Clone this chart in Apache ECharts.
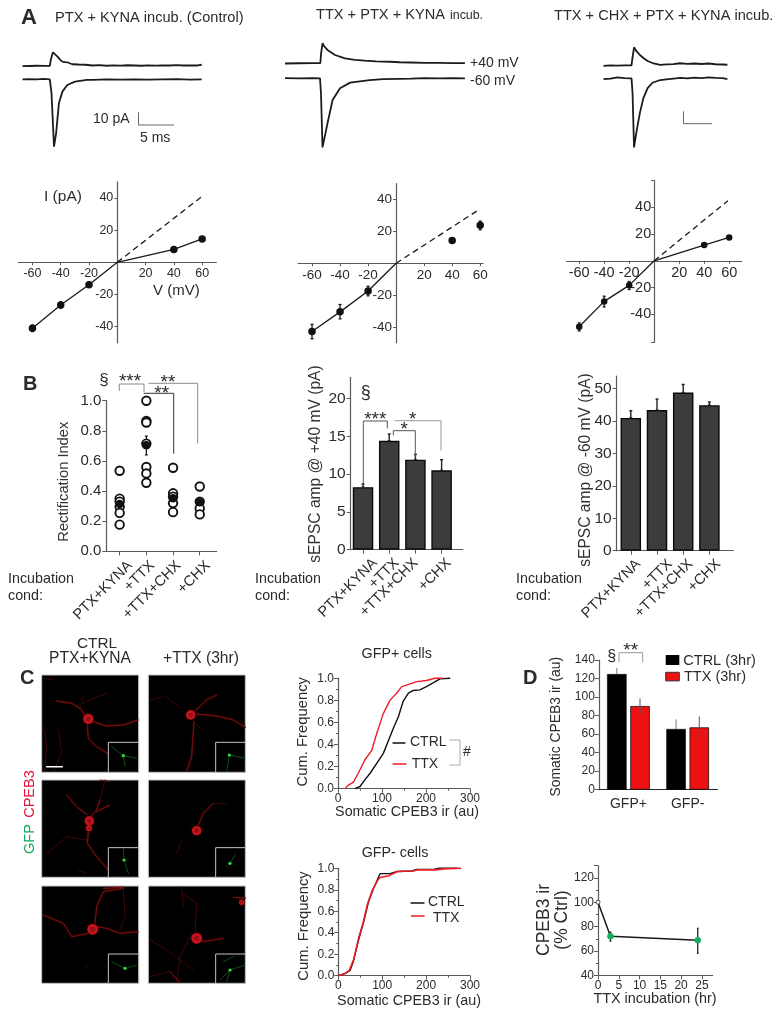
<!DOCTYPE html>
<html><head><meta charset="utf-8">
<style>html,body{margin:0;padding:0;background:#fff}#c{width:784px;height:1018px}</style>
<script src="https://cdn.jsdelivr.net/npm/echarts@6/dist/echarts.min.js"></script>
</head><body><div id="c"></div>
<script>
// ---------- DATA ----------
// Panel A traces: [time ms, current pA] (outward trace shown with its display offset)
const trace1Up=[[0,10.6],[1,10.8],[2,11],[3,10.9],[3.9,11],[4.05,16],[4.35,21.9],[4.7,20],[5,18.4],[5.4,15.8],[5.7,14.3],[6.1,13.9],[6.4,13.8],[7.1,12.2],[8,12],[9,11.8],[10,11.2],[11,11.5],[12,11],[13,11.3],[14,11.1],[15,11.4],[16,11.2],[17,11],[18,11.3],[19,11.1],[20,11.3],[21,11.2],[22,11.5],[23,11.2],[24,11.3],[25,11.2],[25.6,11.8]];
const trace1Dn=[[0,0],[1,.2],[2,0],[3,.3],[3.9,0],[4.14,-11],[4.5,-54.6],[4.8,-43.8],[5.2,-19.5],[5.7,-10],[6.4,-4.6],[7.5,-1.9],[9.2,-.5],[10,-.4],[12,-.1],[14,-.3],[16,0],[18,-.3],[20,0],[22,.1],[24,-.2],[25.6,0]];
const trace2Up=[[0,12],[2,12.2],[4,12.3],[5.05,12.3],[5.15,20],[5.36,28.4],[5.6,26],[6.07,23],[7.14,18.9],[8.57,16.2],[10,15],[11.4,14.3],[13,13.7],[15,13.4],[16.4,13],[18,12.8],[20,12.5],[22,12.5],[24,12.3],[25.7,12.3]];
const trace2Dn=[[0,.2],[2,0],[4,.2],[5,0],[5.14,-12],[5.36,-56],[6.07,-36.5],[6.8,-17.6],[7.86,-8],[9.3,-3.5],[12.1,-1.4],[14,-.7],[16.4,-.4],[18,-.2],[20,.1],[22,0],[24,.1],[25.7,0]];
const trace3Up=[[0,10],[1,10.4],[2,10.2],[3,10.5],[4,10.4],[4.1,15],[4.36,25.1],[4.7,22],[5.2,18.9],[5.7,16.5],[6.3,14],[7,12.4],[8.1,10.8],[9,11.3],[10,11.5],[10.9,12.2],[12,11.7],[13,12],[14,11.6],[15,12],[16,11.4],[17,11.2],[17.7,11]];
const trace3Dn=[[0,-.6],[1,-.2],[2,.8],[3,.1],[4,-.1],[4.15,-12],[4.36,-56],[4.75,-42],[5.2,-28],[5.7,-16],[6.3,-8],[7,-3.6],[8.1,-1.4],[9,-.8],[10,-.2],[11,.4],[12,0],[13,.6],[14,.2],[15,.8],[16,.3],[17,.1],[17.7,-.6]];
const ivTicks=[-60,-40,-20,20,40,60];
const iv1Line=[[-60,-41],[-40,-26.5],[-20,-13.9],[0,0],[40,8],[60,14.5]];
const iv1Pts=[[-60,-41],[-40,-26.5],[-20,-13.9],[40,8],[60,14.5]];
const iv1Dash=[[0,0],[60,41]];
const iv1Err=[[-60,-43,-39],[-40,-28.5,-24.5],[-20,-15.5,-12.3]];
const iv2Line=[[-60,-43],[-40,-30.6],[-20,-17.5],[0,0]];
const iv2Pts=[[-60,-43],[-40,-30.6],[-20,-17.5],[40,14.2],[60,23.8]];
const iv2Dash=[[0,0],[58,33]];
const iv2Err=[[-60,-47.5,-38.5],[-40,-35,-26],[-20,-20.5,-14.5],[60,21,26.5]];
const iv3Line=[[-60,-49.4],[-40,-30.4],[-20,-18.4],[0,0],[40,11.8],[60,17.5]];
const iv3Pts=[[-60,-49.4],[-40,-30.4],[-20,-18.4],[40,11.8],[60,17.5]];
const iv3Dash=[[0,0],[59,45]];
const iv3Err=[[-60,-52.5,-46.5],[-40,-34.5,-26.5],[-20,-21.5,-15.5]];
const conds=['PTX+KYNA','+TTX','+TTX+CHX','+CHX'];
const riPTX=[.535,.35,.33,.295,.255,.177];
const riTTX=[1,.865,.855,.715,.56,.517,.455];
const riTTXCHX=[.555,.385,.363,.32,.26];
const riCHX=[.43,.33,.285,.245];
const riMeans=[.314,.705,.352,.325];
const riErrTop=[.33,.765,.37,.34];
const riErrBot=[.295,.64,.335,.31];
const amp40=[8.27,14.4,11.9,10.5];
const amp40Err=[8.7,15.3,12.6,11.9];
const amp60=[40.9,43.3,48.7,44.8];
const amp60Err=[43.1,46.7,51.2,45.8];
const gfpPlusCtrl=[[38.6,0],[50,.02],[61,.08],[73,.14],[88,.23],[103,.32],[114,.43],[126,.55],[137,.65],[148,.79],[160,.865],[171,.89],[186,.895],[201,.925],[217,.96],[232,.995],[255,1]];
const gfpPlusTtx=[[16,0],[23,.03],[35,.06],[46,.14],[61,.26],[77,.35],[88,.5],[103,.68],[118,.8],[133,.865],[145,.925],[160,.945],[179,.97],[201,.98],[220,1],[239,1]];
const gfpMinusCtrl=[[0,0],[15,.02],[27,.05],[34,.13],[46,.33],[57,.49],[69,.69],[80,.81],[95,.95],[118,.95],[134,.97],[168,.975],[179,.99],[218,.99],[229,1],[271,1]];
const gfpMinusTtx=[[0,0],[15,.02],[25,.05],[35,.15],[47,.36],[57,.5],[66,.66],[77,.79],[90,.89],[95,.915],[115,.93],[135,.97],[170,.975],[180,.985],[220,.985],[240,.995],[280,1]];
const dCats=['GFP+','GFP-'];
const dCtrl=[124.8,65.5];
const dTtx=[90.3,67.3];
const dCtrlErrTop=[131.3,75.9];
const dTtxErr=[[82,98.6],[54.7,79]];
const timeLine=[[0,100],[3,72],[24,68.7]];
const timeErr=[[3,68,75.5],[24,58,78.6]];

// ---------- HELPERS ----------
const FONT='"Liberation Sans",Arial,sans-serif', INK='#2b2b2b', AX='#5a5a5a';
const grids=[],xAxes=[],yAxes=[],series=[],elems=[];
function panel(left,top,width,height,x,y){
  grids.push({left,top,width,height,containLabel:false});
  const i=grids.length-1;
  xAxes.push(Object.assign({gridIndex:i,type:'value',splitLine:{show:false}},x));
  yAxes.push(Object.assign({gridIndex:i,type:'value',splitLine:{show:false}},y));
  return i;
}
function axisStyle(size,margin,extra){
  return Object.assign({
    axisLine:{show:true,onZero:false,lineStyle:{color:AX,width:1.2}},
    axisTick:{show:true,length:4,inside:false,lineStyle:{color:AX,width:1}},
    axisLabel:{show:true,fontFamily:FONT,fontSize:size,color:INK,margin:margin,hideOverlap:false},
    splitLine:{show:false}},extra||{});
}
function T(text,x,y,size,o){o=o||{};
  elems.push({type:'text',x,y,rotation:o.rot||0,z:50,silent:true,style:{text,fontFamily:FONT,fontSize:size,
    fontWeight:o.weight||'normal',fill:o.color||INK,align:o.align||'left',verticalAlign:'middle'}});
}
function P(points,o){o=o||{};
  elems.push({type:'polyline',z:o.z||40,silent:true,shape:{points},style:{fill:null,stroke:o.color||'#8a8a8a',lineWidth:o.w||1,
    shadowBlur:o.blur||0,shadowColor:o.color||'#000',lineCap:'round',lineJoin:'round'}});
}
function R(x,y,w,h,fill,stroke,z){
  elems.push({type:'rect',z:z||30,silent:true,shape:{x,y,width:w,height:h},style:{fill,stroke:stroke||null,lineWidth:stroke?1:0}});
}
function errBars(gi,data,cap,color,w,off){
  series.push({type:'custom',xAxisIndex:gi,yAxisIndex:gi,data,encode:{x:0,y:[1,2]},silent:true,z:4,clip:false,
    renderItem(p,api){
      const x=api.value(0),a=api.coord([x,api.value(1)]),b=api.coord([x,api.value(2)]);
      const s={stroke:color,lineWidth:w},d=off||0,c=[];
      c.push({type:'line',shape:{x1:a[0]+d,y1:a[1],x2:b[0]+d,y2:b[1]},style:s});
      if(cap>0){
        c.push({type:'line',shape:{x1:a[0]+d-cap,y1:a[1],x2:a[0]+d+cap,y2:a[1]},style:s});
        c.push({type:'line',shape:{x1:b[0]+d-cap,y1:b[1],x2:b[0]+d+cap,y2:b[1]},style:s});
      }
      return {type:'group',children:c};
    }});
}
function line(gi,data,o){o=o||{};
  series.push({type:'line',xAxisIndex:gi,yAxisIndex:gi,data,showSymbol:false,symbol:'none',
    lineStyle:{color:o.color||'#1a1a1a',width:o.w||1.3,type:o.type||'solid'},z:o.z||3,clip:false,silent:true,animation:false});
}
function dots(gi,data,size,o){o=o||{};
  series.push({type:'scatter',xAxisIndex:gi,yAxisIndex:gi,data,symbolSize:size,z:o.z||5,clip:false,silent:true,
    itemStyle:{color:o.fill||'#111',borderColor:o.stroke||'#111',borderWidth:o.bw||0,opacity:1}});
}

// ---------- PANEL A : traces ----------
function tracePanel(left,y0,t1,t2,span){
  const g=panel(left,y0-43.17,span*7,117.17,{min:0,max:span,show:false},{min:-60,max:35,show:false});
  line(g,t1,{w:1.8,color:'#1c1c1c'});line(g,t2,{w:1.8,color:'#1c1c1c'});
}
tracePanel(22.5,79.3,trace1Up,trace1Dn,25.6);
tracePanel(285,78.3,trace2Up,trace2Dn,25.7);
tracePanel(603.5,78.3,trace3Up,trace3Dn,17.7);
T('A',21,17.5,22,{weight:'bold'});
T('PTX + KYNA incub. (Control)',55,17.5,14.6);
T('TTX + PTX + KYNA',316,15,14.6);T('incub.',450,16,12.4);
T('TTX + CHX + PTX + KYNA incub.',554,15.5,14.6);
T('+40 mV',470,62.7,14);T('-60 mV',470,80.7,14);
T('10 pA',93,119.3,14);T('5 ms',140,137.7,14);
P([[138.5,112.7],[138.5,125],[173.5,125]],{color:'#666',w:1});
P([[683.5,111.7],[683.5,123.7],[711.5,123.7]],{color:'#666',w:1});

// ---------- PANEL A : I-V ----------
function ivPanel(left,top,w,h,xr,yr,size,yTicks,m,pts,ln,dash,err,dot){
  const offX=-h*(0-yr[0])/(yr[1]-yr[0]), offY=-w*(0-xr[0])/(xr[1]-xr[0]);
  const g=panel(left,top,w,h,
    axisStyle(size,m[0],{min:xr[0],max:xr[1],position:'bottom',offset:offX,
      axisTick:{show:true,length:3,customValues:ivTicks,lineStyle:{color:AX}},
      axisLabel:{show:true,customValues:ivTicks,fontFamily:FONT,fontSize:size,color:INK,margin:m[0],hideOverlap:false,showMinLabel:true,showMaxLabel:true}}),
    axisStyle(size,m[1],{min:yr[0],max:yr[1],position:'left',offset:offY,
      axisTick:{show:true,length:3,customValues:yTicks,lineStyle:{color:AX}},
      axisLabel:{show:true,customValues:[-40,-20,20,40],fontFamily:FONT,fontSize:size,color:INK,margin:m[1],hideOverlap:false,showMinLabel:true,showMaxLabel:true}}));
  line(g,ln,{w:1.3});line(g,dash,{w:1.3,type:[6,4]});
  errBars(g,err,1.5,'#1a1a1a',1.3);dots(g,pts,dot);
}
ivPanel(18.3,181.8,198,161,[-70,70],[-50,50],12.5,[-40,-20,20,40],[5,4],iv1Pts,iv1Line,iv1Dash,iv1Err,7.5);
ivPanel(298,183.7,185,159,[-70,62],[-50,50],13.5,[-40,-20,20,40],[5,4],iv2Pts,iv2Line,iv2Dash,iv2Err,7.5);
ivPanel(566.7,180.6,175,161.7,[-70,70],[-61,60],14.5,[-61,-40,-20,20,40,60],[5,3],iv3Pts,iv3Line,iv3Dash,iv3Err,6.5);
T('I (pA)',44,196.7,15.5);T('V (mV)',153,290.7,15);

// ---------- PANEL B ----------
// the first custom label position is an empty placeholder at the axis minimum, so that
// the library's first-label overlap check does not drop one of the tightly packed labels
function condAxis(min,max,labelAt,size,m){
  return axisStyle(size,m,{min,max,
    axisTick:{show:true,length:4,customValues:[1,2,3,4],lineStyle:{color:AX}},
    axisLabel:{show:true,customValues:[min].concat(labelAt),rotate:45,fontFamily:FONT,fontSize:size,color:INK,margin:m,hideOverlap:false,
      showMinLabel:false,showMaxLabel:true,formatter:v=>v<1?'':conds[Math.floor(v)-1]}});
}
const b1=panel(106.3,400.7,110.4,150.6,condAxis(.5,4.635,[1.39,2.22,3.21,4.31],14.6,12),
  axisStyle(15,5,{min:0,max:1,interval:.2,axisLabel:{show:true,fontFamily:FONT,fontSize:15,color:INK,margin:5,formatter:v=>v.toFixed(1)}}));
[riPTX,riTTX,riTTXCHX,riCHX].forEach((vals,i)=>dots(b1,vals.map(v=>[i+1,v]),8.5,{fill:'#fff',stroke:'#111',bw:1.9}));
errBars(b1,riMeans.map((m,i)=>[i+1,riErrBot[i],riErrTop[i]]),1.5,'#111',1.2);
dots(b1,riMeans.map((m,i)=>[i+1,m]),8.5,{z:7});
T('B',23,384,20,{weight:'bold'});T('§',104,380,17,{align:'center'});
P([[119.3,390.7],[119.3,384],[144,384],[144,391.7]]);
P([[149,383.3],[197.7,383.3],[197.7,443]]);
P([[144,393.3],[173.7,393.3],[173.7,453.3]],{color:'#333'});
T('***',130,381.5,19,{align:'center'});T('**',168,382.5,19,{align:'center'});T('**',161.7,393.5,19,{align:'center'});
T('Rectification Index',64,481.7,14.7,{align:'center',rot:Math.PI/2,color:'#333'});
T('Incubation',8,579,14.3);T('cond:',8,596,14.3);

const b2=panel(350.7,377.3,112,172.4,condAxis(.53,4.805,[1.46,2.29,3.01,4.27],14.6,11),
  axisStyle(15.5,5,{min:0,max:22.8,
    axisTick:{show:true,length:4,customValues:[0,5,10,15,20],lineStyle:{color:AX}},
    axisLabel:{show:true,customValues:[0,5,10,15,20],fontFamily:FONT,fontSize:15.5,color:INK,margin:5,showMinLabel:true,showMaxLabel:true}}));
series.push({type:'bar',xAxisIndex:b2,yAxisIndex:b2,data:amp40.map((v,i)=>[i+1,v]),barWidth:20.5,silent:true,z:3,
  itemStyle:{color:'#3c3c3c',borderColor:'#0a0a0a',borderWidth:1.4}});
errBars(b2,amp40.map((v,i)=>[i+1,v,amp40Err[i]]),1.5,'#222',1.4);
T('§',365.7,393.3,18,{align:'center'});
P([[363.3,484],[363.3,421],[387.3,421],[387.3,428]],{color:'#555'});
P([[393.3,435],[393.3,430.7],[415.3,430.7],[415.3,456.7]],{color:'#555'});
P([[395,420.7],[441,420.7],[441,450]],{color:'#999'});
T('***',375.3,420,19,{align:'center'});T('*',404.3,430,19,{align:'center'});T('*',412.7,419.5,19,{align:'center'});
T('sEPSC amp @ +40 mV (pA)',315.7,464,15.6,{align:'center',rot:Math.PI/2,color:'#333'});
T('Incubation',255,579,14.3);T('cond:',255,596,14.3);

const b3=panel(616.7,376,116.6,174.7,condAxis(.462,4.912,[1.29,2.5,3.28,4.34],14.6,11),
  axisStyle(15.5,5,{min:0,max:53.8,
    axisTick:{show:true,length:4,customValues:[0,10,20,30,40,50],lineStyle:{color:AX}},
    axisLabel:{show:true,customValues:[0,10,20,30,40,50],fontFamily:FONT,fontSize:15.5,color:INK,margin:5,showMinLabel:true,showMaxLabel:true}}));
series.push({type:'bar',xAxisIndex:b3,yAxisIndex:b3,data:amp60.map((v,i)=>[i+1,v]),barWidth:20.5,silent:true,z:3,
  itemStyle:{color:'#3c3c3c',borderColor:'#0a0a0a',borderWidth:1.4}});
errBars(b3,amp60.map((v,i)=>[i+1,v,amp60Err[i]]),1.5,'#222',1.4);
T('sEPSC amp @ -60 mV (pA)',586,470,15.6,{align:'center',rot:Math.PI/2,color:'#333'});
T('Incubation',516,579,14.3);T('cond:',516,596,14.3);

// ---------- PANEL C : micrographs ----------
const Z=p=>p.map(q=>[q[0]/3,640+q[1]/3]);
const cells=[
 {box:[125,105],inset:[325,307],soma:[[265,237,15]],
  bright:[[[265,237],[240,205],[215,190],[170,183]],[[280,245],[320,258],[370,255],[415,240]],[[262,255],[265,295],[290,320],[330,345]]],
  faint:[[[130,115],[160,120]],[[130,260],[140,310],[135,395]],[[175,270],[185,340],[160,395]],[[240,205],[250,170]],[[320,160],[280,175],[250,190]]],
  green:[[[335,320],[370,347],[410,355]],[[370,347],[375,380]]]},
 {box:[445,105],inset:[647,307],soma:[[572,225,14]],
  bright:[[[580,218],[620,180],[650,165]],[[590,222],[650,228],[700,240],[737,262]],[[582,245],[578,300],[575,350],[560,395]]],
  faint:[[[540,205],[500,170]],[[450,180],[490,170]],[[585,250],[600,265]]],
  green:[[[688,345],[735,355]],[[688,345],[680,395]]]},
 {box:[125,420],inset:[325,623],soma:[[268,543,14],[267,565,9]],
  bright:[[[272,530],[290,510],[300,480]],[[262,525],[230,500],[200,465]],[[290,515],[330,495]],[[265,575],[262,610],[290,650],[325,690]]],
  faint:[[[300,480],[315,420]],[[262,600],[200,590],[140,640]],[[235,690],[260,700]],[[300,420],[330,425]]],
  green:[[[370,625],[372,660],[385,700]]]},
 {box:[445,420],inset:[647,623],soma:[[590,572,14]],
  bright:[[[595,555],[610,520],[640,490]]],faint:[[[640,490],[680,492]],[[545,605],[530,640]]],
  green:[[[705,645],[690,670],[680,680]]]},
 {box:[125,738],inset:[325,942],soma:[[278,868,16]],
  bright:[[[265,880],[215,890],[190,850],[130,825]],[[290,860],[320,865],[360,880],[415,875]],[[285,850],[290,800],[310,755],[370,745]],[[310,745],[372,742]]],
  faint:[[[370,745],[375,830],[360,870]],[[265,975],[255,985]]],
  green:[[[335,965],[375,985],[410,975]]]},
 {box:[445,738],inset:[647,942],soma:[[590,895,16],[725,787,8]],
  bright:[[[605,905],[640,900],[670,895]],[[737,775],[700,772]],[[510,995],[540,1028]]],
  faint:[[[585,880],[590,790],[545,760]],[[575,880],[540,950],[530,1028]],[[450,900],[500,930],[540,960],[580,990]],[[450,1010],[490,1000],[510,995]],[[545,740],[550,800]]],
  green:[[[660,1020],[690,990],[735,975]],[[690,990],[680,1025]],[[670,965],[700,950]]]}
];
cells.forEach(c=>{
  const [bx,by]=Z([c.box])[0];
  R(bx,by,97,97.3,'#000','#c4c4c4');
  c.faint.forEach(p=>P(Z(p),{color:'#470808',w:.9,z:31}));
  c.bright.forEach(p=>P(Z(p),{color:'#7e0c0c',w:1,z:32,blur:1.5}));
  c.soma.forEach(s=>{const q=Z([s])[0];
    elems.push({type:'circle',z:33,silent:true,shape:{cx:q[0],cy:q[1],r:s[2]/3},style:{fill:'#c8141c',shadowBlur:2,shadowColor:'#700'}});
    elems.push({type:'circle',z:33,silent:true,shape:{cx:q[0],cy:q[1],r:s[2]/6},style:{fill:'#941018'}});});
  const [ix,iy]=Z([c.inset])[0];
  R(ix,iy,bx+97-ix,by+97.3-iy,'#000','#c4c4c4',34);
  c.green.forEach(p=>P(Z(p),{color:'#12701c',w:.7,z:35}));
});
const greenSomas=[[370,347],[688,345],[372,660],[690,670],[375,985],[690,990]];
Z(greenSomas).forEach(q=>elems.push({type:'circle',z:36,silent:true,shape:{cx:q[0],cy:q[1],r:1.6},style:{fill:'#2ce03c'}}));
P([[46.7,766.7],[62.3,766.7]],{color:'#fff',w:1.6,z:38});
T('CTRL',97,643.5,15.3,{align:'center'});T('PTX+KYNA',90,659,15.6,{align:'center'});
T('+TTX (3hr)',201,659,15.6,{align:'center'});
T('C',20,678,20,{weight:'bold'});
T('GFP',30,839,14.5,{align:'center',rot:Math.PI/2,color:'#14a85a'});
T('CPEB3',30,794,14.5,{align:'center',rot:Math.PI/2,color:'#e01535'});

// ---------- PANEL C : cumulative ----------
function cumAxis(){
  return [axisStyle(12,4,{min:0,max:300,interval:100,minorTick:{show:true,splitNumber:2,length:2,lineStyle:{color:AX}}}),
    axisStyle(12,4,{min:0,max:1,interval:.2,minorTick:{show:true,splitNumber:2,length:2,lineStyle:{color:AX}},
      axisLabel:{show:true,fontFamily:FONT,fontSize:12,color:INK,margin:4,formatter:v=>v.toFixed(1)}})];
}
const c1a=cumAxis(),c1=panel(338,678.3,132,110.4,c1a[0],c1a[1]);
line(c1,gfpPlusCtrl,{color:'#111',w:1.4});line(c1,gfpPlusTtx,{color:'#ee1c25',w:1.4});
T('GFP+ cells',396.7,654,14.3,{align:'center'});
T('Somatic CPEB3 ir (au)',407,812,14.3,{align:'center'});
T('Cum. Frequency',303,731.7,14.8,{align:'center',rot:Math.PI/2});
P([[393,743],[405,743]],{color:'#111',w:1.4});T('CTRL',410,742,14);
P([[393,764],[406,764]],{color:'#ee1c25',w:1.4});T('TTX',411.7,764,14);
P([[450,740],[460,740],[460,765],[450,765]],{color:'#aaa'});T('#',463,752,14);
const c2a=cumAxis(),c2=panel(338.3,868.3,131.7,107.4,c2a[0],c2a[1]);
line(c2,gfpMinusCtrl,{color:'#111',w:1.4});line(c2,gfpMinusTtx,{color:'#ee1c25',w:1.6});
T('GFP- cells',395,852.7,14.3,{align:'center'});
T('Somatic CPEB3 ir (au)',409,1001,14.3,{align:'center'});
T('Cum. Frequency',304,926,14.8,{align:'center',rot:Math.PI/2});
P([[411,903],[424,903]],{color:'#111',w:1.4});T('CTRL',428,902,14);
P([[411.5,916],[424,916]],{color:'#ee1c25',w:1.6});T('TTX',433,918,14);

// ---------- PANEL D ----------
const d1=panel(598.8,660,118.5,129.7,
  {type:'category',data:dCats,axisTick:{show:false},axisLine:{show:true,onZero:false,lineStyle:{color:'#222',width:1.2}},
   axisLabel:{fontFamily:FONT,fontSize:14,color:INK,margin:7}},
  axisStyle(12,4,{min:0,max:140,interval:20}));
series.push({type:'bar',xAxisIndex:d1,yAxisIndex:d1,data:dCtrl,barWidth:19.5,barGap:'19%',silent:true,z:3,itemStyle:{color:'#000',borderColor:'#000',borderWidth:.5}});
series.push({type:'bar',xAxisIndex:d1,yAxisIndex:d1,data:dTtx,barWidth:19.5,barGap:'19%',silent:true,z:3,itemStyle:{color:'#ee1111',borderColor:'#111',borderWidth:.8}});
errBars(d1,dCtrl.map((v,i)=>[i,v,dCtrlErrTop[i]]),0,'#777',1,-11.6);
errBars(d1,dTtxErr.map((e,i)=>[i,e[0],e[1]]),0,'#555',1,11.6);
T('D',523,678,20,{weight:'bold'});T('§',611.7,657,16,{align:'center'});
P([[619,661.7],[619,652.7],[642.7,652.7],[642.7,662]],{color:'#999'});
T('**',630.7,650.5,19,{align:'center'});
T('Somatic CPEB3 ir (au)',556,726.7,13.9,{align:'center',rot:Math.PI/2});
R(665.7,655,13.6,10,'#000');R(665.7,672.3,13.6,8.6,'#ee1111','#333');
T('CTRL (3hr)',683.3,660.5,14.5);T('TTX (3hr)',684,677,14.5);

const d2=panel(598,865.7,114.7,109.6,
  axisStyle(12,4,{min:0,max:27.6,interval:5}),
  axisStyle(12,4,{min:40,max:130,interval:20,minorTick:{show:true,splitNumber:2,length:2,lineStyle:{color:AX}},
    axisLabel:{show:true,customValues:[40,60,80,100,120],fontFamily:FONT,fontSize:12,color:INK,margin:4,showMinLabel:true,showMaxLabel:true}}));
errBars(d2,timeErr,0.8,'#222',1.3);
line(d2,timeLine,{w:1.5,color:'#1a1a1a'});
dots(d2,[timeLine[1],timeLine[2]],6.5,{fill:'#17ad62',z:7});
dots(d2,[timeLine[0]],4,{fill:'#fff',stroke:'#222',bw:.8,z:7});
T('TTX incubation (hr)',655,999,14.4,{align:'center'});
T('CPEB3 ir',544,920,17.5,{align:'center',rot:Math.PI/2});
T('(% Ctrl)',561.7,920,17.5,{align:'center',rot:Math.PI/2});

echarts.init(document.getElementById('c'),null,{renderer:'canvas'}).setOption({
  animation:false,backgroundColor:'#fff',textStyle:{fontFamily:FONT},
  grid:grids,xAxis:xAxes,yAxis:yAxes,series,graphic:{elements:elems}
});
</script></body></html>
